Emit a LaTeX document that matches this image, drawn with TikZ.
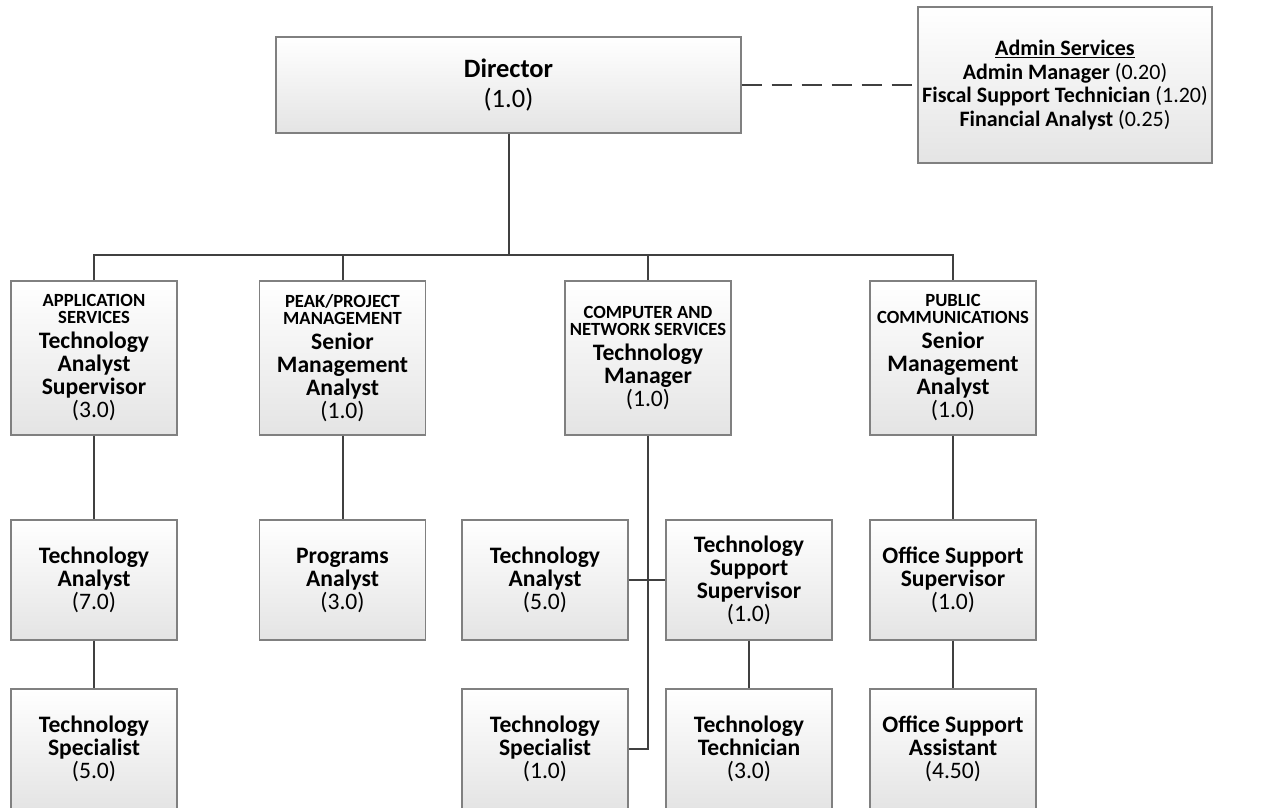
\documentclass[tikz,border=0pt]{standalone}
\usepackage{fontspec}
\setmainfont{Carlito}
\definecolor{linkgray}{HTML}{404040}
\definecolor{boxgray}{HTML}{808080}
\definecolor{boxshade}{HTML}{E4E4E4}
% department caption line and position count
\newcommand\dept[1]{{\fontsize{18.6}{17}\selectfont #1}}
\newcommand\fte[1]{{\mdseries(#1)}}
\newcommand\tightlines{\lineskiplimit=-20pt\relax}
\begin{document}
\begin{tikzpicture}[x=1pt,y=-1pt,
  unit/.style={draw=boxgray, line width=1.1pt, top color=white, bottom color=boxshade,
    minimum width=166pt, inner sep=0pt, align=flush center, text width=166pt,
    font=\fontsize{23.6}{23}\selectfont\bfseries\tightlines},
  row1/.style={unit, minimum height=154pt},
  row2/.style={unit, minimum height=120pt},
  link/.style={draw=linkgray, line width=2pt}]
\path[use as bounding box] (0,0) rectangle (1264,807);
\clip (0,0) rectangle (1264,807);

% top level
\node[unit, minimum width=465pt, minimum height=96pt, text width=400pt,
      font=\fontsize{26.5}{30}\selectfont\bfseries] (dir) at (508.5,85) {Director\\\fte{1.0}};
\node[unit, minimum width=294pt, minimum height=156pt, text width=294pt,
      font=\fontsize{22}{23.7}\selectfont\bfseries\tightlines] (admin) at (1065,85)
  {\underline{Admin Services}\\Admin Manager \fte{0.20}\\Fiscal Support Technician \fte{1.20}\\Financial Analyst \fte{0.25}\\[4pt]};

% division heads
\node[row1] (app) at (94,358) {\dept{APPLICATION}\\[-6pt]\dept{SERVICES}\\[2pt]Technology\\Analyst\\Supervisor\\\fte{3.0}};
\node[row1] (peak) at (342.5,358) {\dept{PEAK/PROJECT}\\[-6pt]\dept{MANAGEMENT}\\[2pt]Senior\\Management\\Analyst\\\fte{1.0}};
\node[row1] (cns) at (648,358) {\dept{COMPUTER AND}\\[-6pt]\dept{NETWORK SERVICES}\\[2pt]Technology\\Manager\\\fte{1.0}};
\node[row1] (pub) at (953,358) {\dept{PUBLIC}\\[-6pt]\dept{COMMUNICATIONS}\\[2pt]Senior\\Management\\Analyst\\\fte{1.0}};

% second row
\node[row2] (appAna) at (94,580) {Technology\\Analyst\\\fte{7.0}};
\node[row2] (peakAna) at (342.5,580) {Programs\\Analyst\\\fte{3.0}};
\node[row2] (cnsAna) at (545,580) {Technology\\Analyst\\\fte{5.0}};
\node[row2] (tss) at (749,580) {Technology\\Support\\Supervisor\\\fte{1.0}};
\node[row2] (oss) at (953,580) {Office Support\\Supervisor\\\fte{1.0}};

% third row
\node[row2] (appSpec) at (94,749) {Technology\\Specialist\\\fte{5.0}};
\node[row2] (cnsSpec) at (545,749) {Technology\\Specialist\\\fte{1.0}};
\node[row2] (tech) at (749,749) {Technology\\Technician\\\fte{3.0}};
\node[row2] (osa) at (953,749) {Office Support\\Assistant\\\fte{4.50}};

% connectors
\coordinate (bus) at (0,255);
\draw[link] (dir.south) -- (dir.south |- bus);
\draw[link] (app.north) -- (app.north |- bus) -- (pub.north |- bus) -- (pub.north);
\draw[link] (peak.north) -- (peak.north |- bus);
\draw[link] (cns.north) -- (cns.north |- bus);
\draw[link, dash pattern=on 20pt off 10pt] (dir.east) -- (admin.west |- dir.east);

\draw[link] (app.south) -- (appAna.north);
\draw[link] (appAna.south) -- (appSpec.north);
\draw[link] (peak.south) -- (peakAna.north);
\draw[link] (cns.south) |- (cnsSpec.east);
\draw[link] (cnsAna.east) -- (tss.west);
\draw[link] (tss.south) -- (tech.north);
\draw[link] (pub.south) -- (oss.north);
\draw[link] (oss.south) -- (osa.north);
\end{tikzpicture}
\end{document}
